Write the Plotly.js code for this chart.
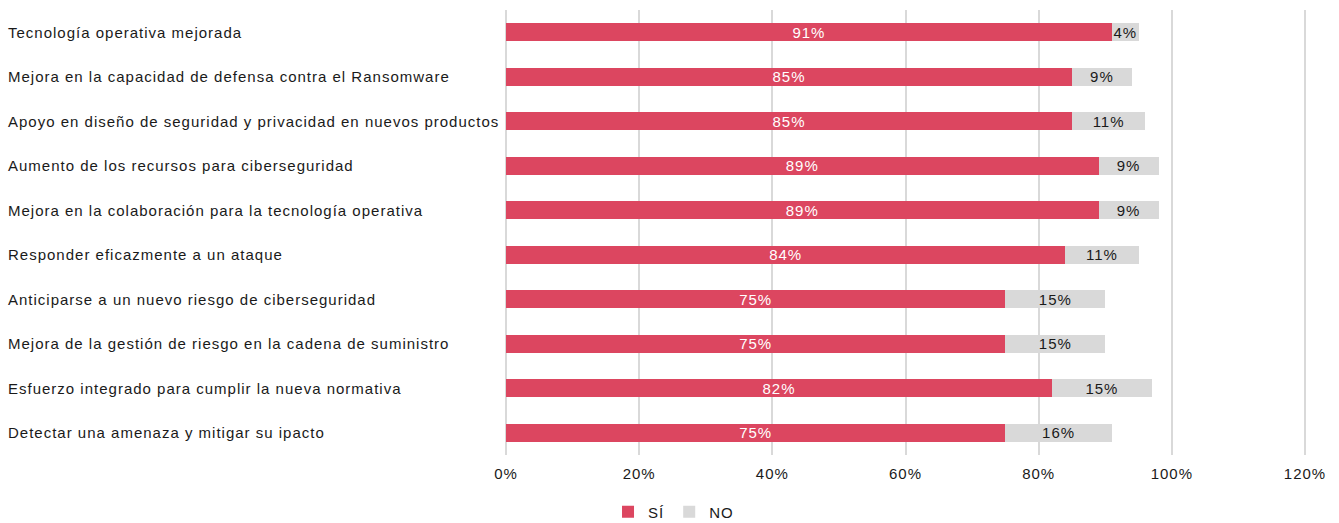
<!DOCTYPE html>
<html><head><meta charset="utf-8">
<script src="https://cdn.plot.ly/plotly-3.0.1.min.js"></script>
<style>
html,body{margin:0;padding:0;background:#fff}
#chart{width:1339px;height:523px}
svg text{letter-spacing:1px}
</style>
</head><body><div id="chart"></div>
<script>
const categories = [
  "Tecnología operativa mejorada",
  "Mejora en la capacidad de defensa contra el Ransomware",
  "Apoyo en diseño de seguridad y privacidad en nuevos productos",
  "Aumento de los recursos para ciberseguridad",
  "Mejora en la colaboración para la tecnología operativa",
  "Responder eficazmente a un ataque",
  "Anticiparse a un nuevo riesgo de ciberseguridad",
  "Mejora de la gestión de riesgo en la cadena de suministro",
  "Esfuerzo integrado para cumplir la nueva normativa",
  "Detectar una amenaza y mitigar su ipacto"
];
const si = [0.91, 0.85, 0.85, 0.89, 0.89, 0.84, 0.75, 0.75, 0.82, 0.75];
const no = [0.04, 0.09, 0.11, 0.09, 0.09, 0.11, 0.15, 0.15, 0.15, 0.16];
const xTicks = [0, 0.2, 0.4, 0.6, 0.8, 1.0, 1.2];

const font = "Liberation Sans, Arial, sans-serif";
const pct = v => Math.round(v * 100) + "%";

const traces = [
  {type: "bar", orientation: "h", name: "SÍ", y: categories, x: si,
   marker: {color: "#DC4660"}, width: 0.4,
   text: si.map(pct), textposition: "inside", insidetextanchor: "middle",
   textfont: {color: "#ffffff", size: 15, family: font}, constraintext: "none",
   hoverinfo: "x+y"},
  {type: "bar", orientation: "h", name: "NO", y: categories, x: no,
   marker: {color: "#D9D9D9"}, width: 0.4,
   text: no.map(pct), textposition: "inside", insidetextanchor: "middle",
   textfont: {color: "#1a1a1a", size: 15, family: font}, constraintext: "none",
   hoverinfo: "x+y"}
];

const plotW = 1339 - 506 - 21;
const annotations = categories.map(c => ({
  xref: "paper", yref: "y", x: -506/plotW, y: c, xanchor: "left", yanchor: "middle",
  text: c, showarrow: false, font: {size: 15, color: "#1a1a1a", family: font}, xshift: 6
}));

const layout = {
  width: 1339, height: 523,
  margin: {l: 506, r: 21, t: 10, b: 68},
  barmode: "stack",
  paper_bgcolor: "#ffffff", plot_bgcolor: "#ffffff",
  font: {family: font, size: 15, color: "#1a1a1a"},
  xaxis: {range: [0, 1.2 * plotW / 799], tickvals: xTicks, ticktext: xTicks.map(pct),
          showgrid: true, gridcolor: "#D9D9D9", gridwidth: 2, zeroline: true,
          zerolinecolor: "#D9D9D9", zerolinewidth: 2, showline: false, ticks: "",
          ticklabelstandoff: 8, automargin: false,
          tickfont: {size: 15, color: "#1a1a1a", family: font}, fixedrange: true},
  yaxis: {autorange: "reversed", showticklabels: false, showgrid: false,
          zeroline: false, showline: false, ticks: "", fixedrange: true, automargin: false},
  showlegend: true,
  legend: {orientation: "h", traceorder: "normal", x: 0.503, xref: "container", xanchor: "center",
           y: 11/523, yref: "container", yanchor: "middle",
           font: {size: 15, family: font, color: "#1a1a1a"}, itemwidth: 30, tracegroupgap: 0},
  annotations: annotations
};

Plotly.newPlot("chart", traces, layout, {displayModeBar: false, staticPlot: true});
</script></body></html>
